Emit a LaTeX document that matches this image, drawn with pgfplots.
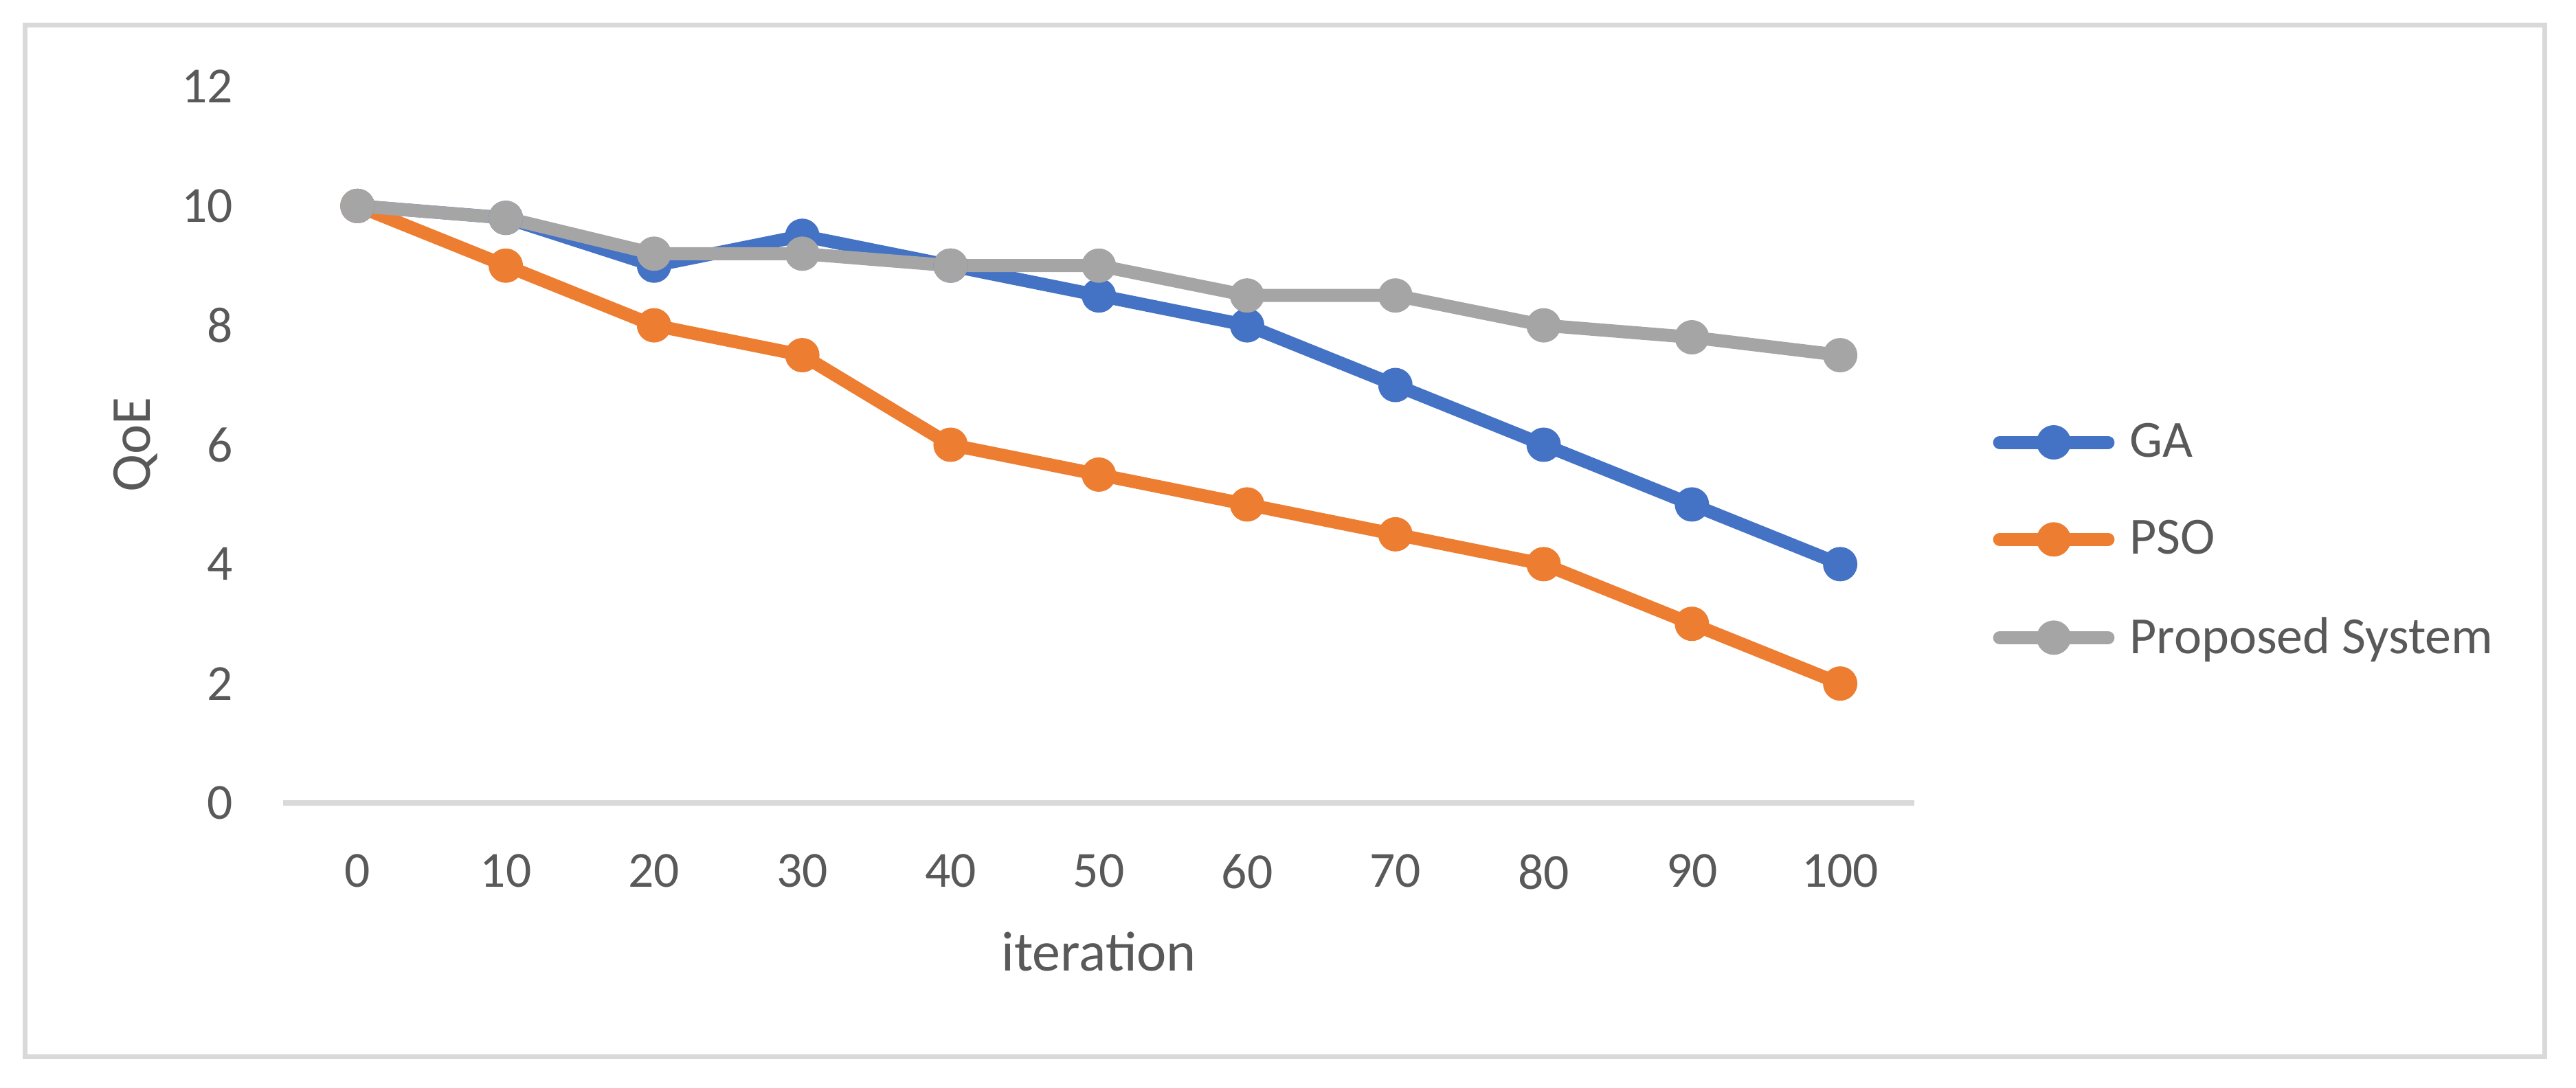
\documentclass[border=0pt]{standalone}
\usepackage{pgfplots}
\pgfplotsset{compat=1.18}
\usepackage{fontspec}
\setmainfont{Carlito}
\definecolor{cblue}{HTML}{4472C4}
\definecolor{corange}{HTML}{ED7D31}
\definecolor{cgray}{HTML}{A5A5A5}
\definecolor{ctext}{HTML}{595959}
\definecolor{cframe}{HTML}{D9D9D9}
\begin{document}
\begin{tikzpicture}
\useasboundingbox (0,0) rectangle (937.25pt,396pt);
\draw[cframe, line width=1.75pt] (9.125pt,11.4pt) rectangle (925.9pt,386.875pt);
\begin{axis}[
  at={(103.1pt,103.75pt)}, anchor=south west,
  scale only axis, width=593.4pt, height=260.75pt,
  xmin=-5, xmax=105, ymin=0, ymax=12,
  xtick={0,10,...,100}, ytick={0,2,...,12},
  axis x line*=bottom, axis y line*=left,
  x axis line style={cframe, line width=2pt},
  y axis line style={draw=none},
  major tick length=0pt,
  tick style={draw=none},
  /pgf/number format/assume math mode=true,
  tick label style={font=\fontsize{18.4}{22}\selectfont, text=ctext, inner sep=0pt},
  xticklabel style={anchor=north, yshift=-18.5pt},
  yticklabel style={anchor=east, xshift=-18.1pt},
  label style={font=\fontsize{20.5}{24}\selectfont, text=ctext},
  xlabel={iteration},
  ylabel={QoE},
  xlabel style={at={(axis description cs:0.5,-0.234)}, anchor=base},
  ylabel style={at={(axis description cs:-0.0815,0.5)}, anchor=base},
  legend cell align=left,
  legend style={at={(axis description cs:1.0483,0.3662)}, anchor=west,
    draw=none, fill=none, inner sep=0pt, outer sep=0pt,
    row sep=17.5pt, column sep=3.5pt,
    font=\fontsize{19}{23}\selectfont, text=ctext},
  legend image code/.code={\draw[#1, line cap=round, mark repeat=2, mark phase=2] plot coordinates {(0pt,0pt) (19.7pt,0pt) (39.45pt,0pt)};},
  every axis plot/.append style={line width=4.75pt, line join=round, mark=*, mark size=6.1pt, mark options={solid, line width=0.3pt}},
]
\addplot[color=cblue] coordinates {(0,10) (10,9.8) (20,9) (30,9.5) (40,9) (50,8.5) (60,8) (70,7) (80,6) (90,5) (100,4)};
\addlegendentry{GA}
\addplot[color=corange] coordinates {(0,10) (10,9) (20,8) (30,7.5) (40,6) (50,5.5) (60,5) (70,4.5) (80,4) (90,3) (100,2)};
\addlegendentry{PSO}
\addplot[color=cgray] coordinates {(0,10) (10,9.8) (20,9.2) (30,9.2) (40,9) (50,9) (60,8.5) (70,8.5) (80,8) (90,7.8) (100,7.5)};
\addlegendentry{Proposed System}
\end{axis}
\end{tikzpicture}
\end{document}
